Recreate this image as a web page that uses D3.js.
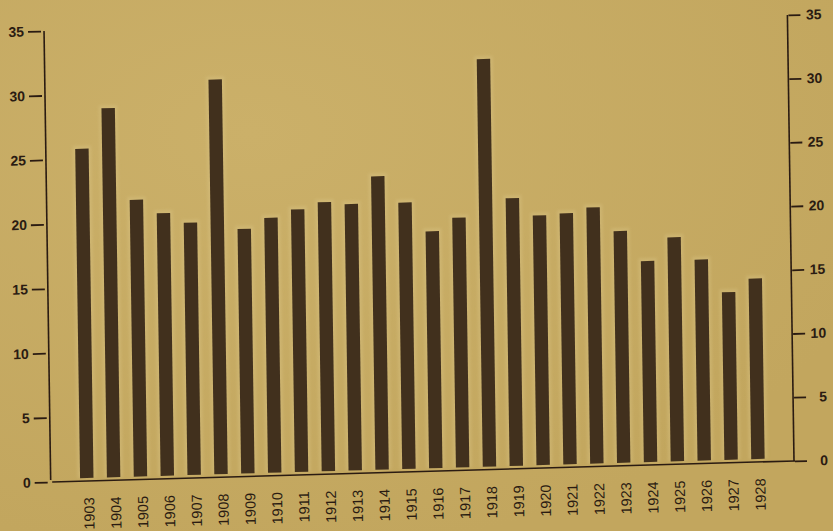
<!DOCTYPE html>
<html>
<head>
<meta charset="utf-8">
<script src="https://cdn.jsdelivr.net/npm/d3@7"></script>
<style>
  html, body { margin: 0; padding: 0; background: #c4a862; }
  svg { display: block; }
</style>
</head>
<body>
<svg id="chart" width="833" height="531"></svg>
<script>
// ---- data ----
const years = ["1903","1904","1905","1906","1907","1908","1909","1910","1911","1912",
               "1913","1914","1915","1916","1917","1918","1919","1920","1921","1922",
               "1923","1924","1925","1926","1927","1928"];
const values = [25.9, 29.0, 21.8, 20.7, 19.9, 31.0, 19.3, 20.1, 20.7, 21.2,
                21.0, 23.1, 21.0, 18.7, 19.7, 32.0, 21.1, 19.7, 19.8, 20.2,
                18.3, 15.9, 17.7, 15.9, 13.3, 14.3];
const leftTicks  = [0, 5, 10, 15, 20, 25, 30, 35];
const rightTicks = [0, 5, 10, 15, 20, 25, 30, 35];

// ---- drawing ----
const W = 833, H = 531;
const ink = "#2a1b12";
const barColor = "#41301d";
const font = "'Liberation Sans', Arial, Helvetica, sans-serif";

const svg = d3.select("#chart");
svg.append("rect").attr("width", W).attr("height", H).attr("fill", "#c4a862");

const defs = svg.append("defs");
const grad = defs.append("radialGradient").attr("id", "paper")
  .attr("cx", "30%").attr("cy", "25%").attr("r", "80%");
grad.append("stop").attr("offset", "0%").attr("stop-color", "#cbb069");
grad.append("stop").attr("offset", "100%").attr("stop-color", "#c2a65e");
svg.append("rect").attr("width", W).attr("height", H).attr("fill", "url(#paper)");
defs.append("filter").attr("id", "glow").attr("x", "-50%").attr("width", "200%")
  .append("feGaussianBlur").attr("stdDeviation", 1.6);

// scanned page is slightly skewed: apply an affine transform to the whole chart
const g = svg.append("g")
  .attr("transform", "matrix(1,-0.0283,0.0148,1,-7.13,1.43)");

const x = d3.scaleBand().domain(years).range([73.4, 771.4])
  .paddingInner(0.5).paddingOuter(0.25);
const y = d3.scaleLinear().domain([0, 35]).range([482, 33]);
const yLeft = d3.scaleLinear().domain([0, 35]).range([482, 31]);
const yRight = d3.scaleLinear().domain([0, 35]).range([482, 36]);

const axisLeftX = 50.7, axisRightX = 794;

// bar halos (scan glow)
g.append("g").selectAll("rect").data(values).join("rect")
  .attr("x", (d, i) => x(years[i]) - 2.5)
  .attr("width", x.bandwidth() + 5)
  .attr("y", d => y(d) - 3)
  .attr("height", d => y(0) - y(d))
  .attr("fill", "#dcc88a")
  .attr("opacity", 0.35)
  .attr("filter", "url(#glow)");

// bars
g.append("g").selectAll("rect").data(values).join("rect")
  .attr("x", (d, i) => x(years[i]))
  .attr("width", x.bandwidth())
  .attr("y", d => y(d))
  .attr("height", d => y(0) - 3 - y(d))
  .attr("fill", barColor);

// baseline
g.append("line")
  .attr("x1", axisLeftX + 1.5).attr("x2", axisRightX + 1)
  .attr("y1", y(0)).attr("y2", y(0))
  .attr("stroke", ink).attr("stroke-width", 1.6);

// left axis
g.append("line")
  .attr("x1", axisLeftX).attr("x2", axisLeftX)
  .attr("y1", yLeft(35)).attr("y2", yLeft(0) - 2)
  .attr("stroke", ink).attr("stroke-width", 1.6);
const la = g.append("g").attr("transform", `translate(${axisLeftX - 3},0)`)
  .call(d3.axisLeft(yLeft).tickValues(leftTicks).tickSize(13).tickPadding(4));
la.select(".domain").remove();
la.selectAll(".tick line").attr("stroke", ink).attr("stroke-width", 1.8);
la.selectAll(".tick text").attr("fill", ink).attr("font-family", font)
  .attr("font-size", 14).attr("font-weight", "bold");

// right axis
g.append("line")
  .attr("x1", axisRightX).attr("x2", axisRightX)
  .attr("y1", yRight(35)).attr("y2", yRight(0))
  .attr("stroke", ink).attr("stroke-width", 1.6);
const ra = g.append("g").attr("transform", `translate(${axisRightX + 1},0)`)
  .call(d3.axisRight(yRight).tickValues(rightTicks).tickSize(12).tickPadding(4));
ra.select(".domain").remove();
ra.selectAll(".tick line").attr("stroke", ink).attr("stroke-width", 1.8);
ra.selectAll(".tick text").attr("fill", ink).attr("font-family", font)
  .attr("font-size", 14).attr("font-weight", "bold")
  .attr("text-anchor", "end").attr("x", 33);

// year labels
const ba = g.append("g").attr("transform", `translate(0,${y(0)})`)
  .call(d3.axisBottom(x).tickSize(0));
ba.select(".domain").remove();
ba.selectAll(".tick text")
  .attr("fill", ink).attr("font-family", font).attr("font-size", 14.5)
  .attr("text-anchor", "end")
  .attr("transform", "rotate(-90)")
  .attr("x", -16.5).attr("y", 2).attr("dy", "0.35em");
</script>
</body>
</html>
